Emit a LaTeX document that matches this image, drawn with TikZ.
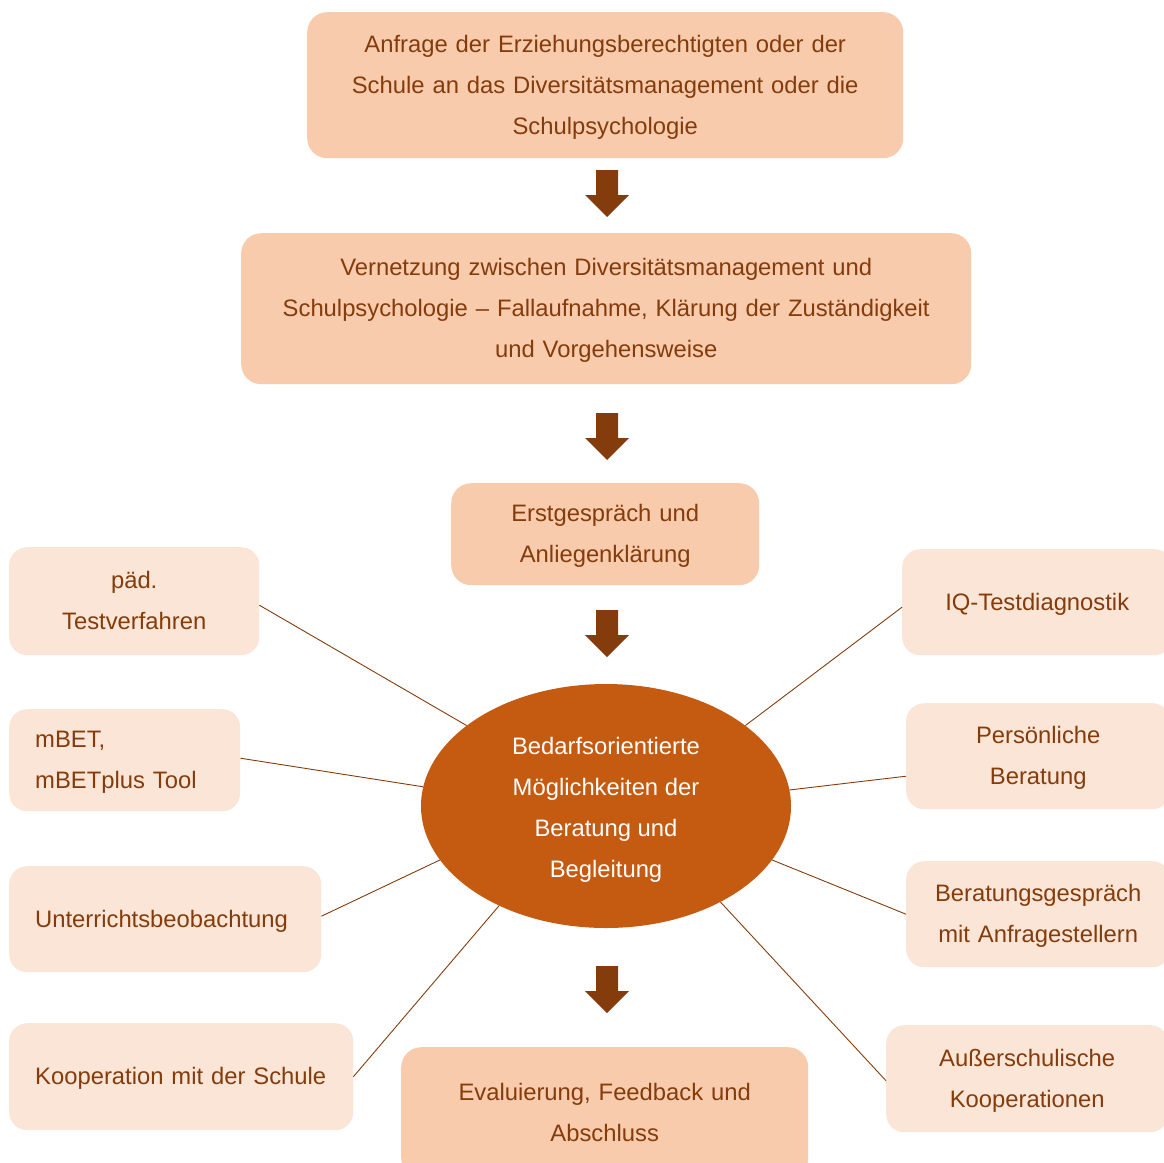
\documentclass[tikz,border=0pt]{standalone}
\usepackage{fontspec}
\setmainfont{Liberation Sans}
\usetikzlibrary{shapes.geometric}
\definecolor{peach}{HTML}{F8CBAD}
\definecolor{lightpeach}{HTML}{FBE5D6}
\definecolor{brn}{HTML}{843C0C}
\definecolor{orng}{HTML}{C55A11}
\tikzset{
  txt/.style={font=\fontsize{23.8}{41}\selectfont, text=brn,
    execute at begin node=\strut, execute at end node=\strut},
  mainbox/.style={txt, fill=peach, rounded corners=20pt, anchor=north west, inner ysep=0pt, align=center},
  sidebox/.style={txt, fill=lightpeach, rounded corners=18pt, anchor=north west, inner ysep=0pt},
  blockarrow/.style={fill=brn, draw=none},
  link/.style={draw=brn, line width=0.9pt},
}
\newcommand{\boxat}[7]{% style, name, x, y, w, h, text
  \node[#1, minimum width=#5pt, minimum height=#6pt, text width=#5pt-52pt, inner xsep=26pt] (#2) at (#3,#4) {#7};}
\begin{document}
\begin{tikzpicture}[x=1pt,y=-1pt]
\useasboundingbox (0,0) rectangle (1164,1162);
\clip (0,0) rectangle (1164,1162);
% main boxes
\boxat{mainbox}{req}{307}{12}{596}{146}{Anfrage der Erziehungsberechtigten oder der\\Schule an das Diversitätsmanagement oder die\\Schulpsychologie}
\node[mainbox, minimum width=730pt, minimum height=151pt, text width=700pt, inner xsep=15pt] (net) at (241,233) {Vernetzung zwischen Diversitätsmanagement und\\Schulpsychologie – Fallaufnahme, Klärung der Zuständigkeit\\und Vorgehensweise};
\boxat{mainbox}{first}{451}{483}{308}{102}{Erstgespräch und\\Anliegenklärung}
\boxat{mainbox}{eval}{401}{1047}{407}{131}{Evaluierung, Feedback und\\Abschluss}
% ellipse
\node[ellipse, fill=orng, minimum width=370pt, minimum height=244pt, inner sep=0pt] (ell) at (606,806) {};
\node[txt, text=white, align=center, inner sep=0pt] (elltxt) at (606,814)
      {Bedarfsorientierte\\Möglichkeiten der\\Beratung und\\Begleitung};
% left boxes
\boxat{sidebox, align=center}{paed}{9}{547}{250}{108}{päd.\\Testverfahren}
\boxat{sidebox, align=left}{mbet}{9}{709}{231}{102}{mBET,\\mBETplus Tool}
\boxat{sidebox, align=left}{unt}{9}{866}{312}{106}{Unterrichtsbeobachtung}
\boxat{sidebox, align=left}{koop}{9}{1023}{344}{107}{Kooperation mit der Schule}
% right boxes
\boxat{sidebox, align=center}{iq}{902}{549}{270}{106}{IQ-Testdiagnostik}
\boxat{sidebox, align=center}{pers}{906}{703}{264}{106}{Persönliche\\Beratung}
\boxat{sidebox, align=center}{ber}{906}{861}{264}{106}{Beratungsgespräch\\mit Anfragestellern}
\boxat{sidebox, align=center}{aus}{886}{1025}{282}{107}{Außerschulische\\Kooperationen}
% block arrows
\foreach \ya/\nm in {170/a1,413/a2,610/a3,966/a4}{
  \coordinate (\nm) at (607,\ya);
  \fill[blockarrow] ([xshift=-11pt]\nm) -- ++(0,25) -- ++(-11,0) -- ++(22,22) -- ++(22,-22) -- ++(-11,0) -- ++(0,-25) -- cycle;
}
% connectors
\draw[link] ([yshift=-4pt]paed.east) -- (ell.150);
\draw[link] ([yshift=2pt]mbet.east) -- (ell.174);
\draw[link] ([yshift=3pt]unt.east) -- (ell.198);
\draw[link] (koop.east) -- (ell.223);
\draw[link] ([yshift=-5pt]iq.west) -- (ell.30);
\draw[link] ([yshift=-20pt]pers.west) -- (ell.5);
\draw[link] (ber.west) -- (ell.-18);
\draw[link] ([yshift=-2pt]aus.west) -- (ell.-40);
\end{tikzpicture}
\end{document}
